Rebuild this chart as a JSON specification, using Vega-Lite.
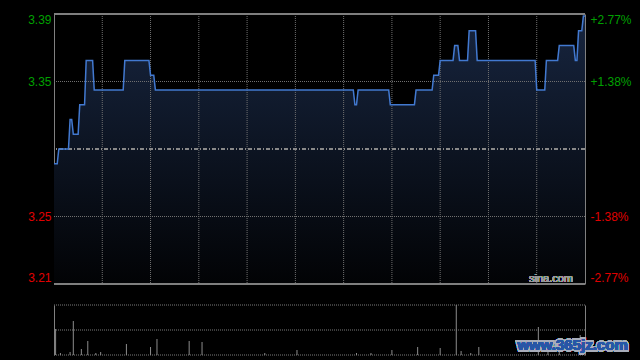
{
  "$schema": "https://vega.github.io/schema/vega-lite/v6.json",
  "width": 531,
  "height": 341,
  "autosize": {"type": "none"},
  "padding": {"left": 54, "top": 14, "right": 55, "bottom": 5},
  "background": "#000000",
  "config": {
    "view": {"stroke": null},
    "axis": {"labelFont": "Liberation Sans", "titleFont": "Liberation Sans"},
    "text": {"font": "Liberation Sans"}
  },
  "datasets": {
    "price": [
      {"m": 0, "p": 3.29}, {"m": 2, "p": 3.29}, {"m": 3, "p": 3.30}, {"m": 9, "p": 3.30},
      {"m": 10, "p": 3.32}, {"m": 11, "p": 3.32}, {"m": 12, "p": 3.31}, {"m": 15, "p": 3.31},
      {"m": 16, "p": 3.33}, {"m": 19, "p": 3.33}, {"m": 20, "p": 3.36}, {"m": 24, "p": 3.36},
      {"m": 25, "p": 3.34}, {"m": 43, "p": 3.34}, {"m": 44, "p": 3.36}, {"m": 59, "p": 3.36},
      {"m": 60, "p": 3.35}, {"m": 62, "p": 3.35}, {"m": 63, "p": 3.34}, {"m": 186, "p": 3.34},
      {"m": 187, "p": 3.33}, {"m": 188, "p": 3.33}, {"m": 189, "p": 3.34}, {"m": 208, "p": 3.34},
      {"m": 209, "p": 3.33}, {"m": 224, "p": 3.33}, {"m": 225, "p": 3.34}, {"m": 235, "p": 3.34},
      {"m": 236, "p": 3.35}, {"m": 239, "p": 3.35}, {"m": 240, "p": 3.36}, {"m": 248, "p": 3.36},
      {"m": 249, "p": 3.37}, {"m": 251, "p": 3.37}, {"m": 252, "p": 3.36}, {"m": 257, "p": 3.36},
      {"m": 258, "p": 3.38}, {"m": 262, "p": 3.38}, {"m": 263, "p": 3.36}, {"m": 299, "p": 3.36},
      {"m": 300, "p": 3.34}, {"m": 305, "p": 3.34}, {"m": 306, "p": 3.36}, {"m": 313, "p": 3.36},
      {"m": 314, "p": 3.37}, {"m": 323, "p": 3.37}, {"m": 324, "p": 3.36}, {"m": 325, "p": 3.36},
      {"m": 326, "p": 3.38}, {"m": 328, "p": 3.38}, {"m": 329, "p": 3.39}, {"m": 330, "p": 3.39}
    ],
    "vol": [
      {"m": 1, "v": 52}, {"m": 4, "v": 4}, {"m": 10, "v": 6}, {"m": 12, "v": 68},
      {"m": 17, "v": 12}, {"m": 21, "v": 28}, {"m": 26, "v": 4}, {"m": 29, "v": 6},
      {"m": 45, "v": 22}, {"m": 60, "v": 16}, {"m": 64, "v": 32}, {"m": 84, "v": 28},
      {"m": 92, "v": 26}, {"m": 131, "v": 4}, {"m": 151, "v": 10}, {"m": 188, "v": 4},
      {"m": 197, "v": 4}, {"m": 210, "v": 10}, {"m": 226, "v": 16}, {"m": 240, "v": 14},
      {"m": 250, "v": 100}, {"m": 253, "v": 8}, {"m": 259, "v": 4}, {"m": 264, "v": 16},
      {"m": 301, "v": 56}, {"m": 307, "v": 6}, {"m": 314, "v": 10}, {"m": 327, "v": 40}
    ],
    "times": [
      {"t": "10:00", "m": 30}, {"t": "10:30", "m": 60}, {"t": "11:00", "m": 90},
      {"t": "11:30", "m": 120}, {"t": "12:00/13:00", "m": 150}, {"t": "13:30", "m": 180},
      {"t": "14:00", "m": 210}, {"t": "14:30", "m": 240}, {"t": "15:00", "m": 270},
      {"t": "15:30", "m": 300}
    ],
    "levels": [{"p": 3.345705}, {"p": 3.254295}],
    "vlevels": [{"v": 0}, {"v": 50}, {"v": 100}]
  },
  "layer": [
    {
      "data": {"name": "price"},
      "layer": [
        {
          "mark": {
            "type": "area",
            "interpolate": "linear",
            "color": {
              "gradient": "linear", "x1": 0, "y1": 0, "x2": 0, "y2": 1,
              "stops": [{"offset": 0, "color": "#17253f"}, {"offset": 1, "color": "#020305"}]
            }
          },
          "encoding": {
            "x": {
              "field": "m", "type": "quantitative",
              "scale": {"domain": [0, 330], "nice": false, "zero": false},
              "axis": null
            },
            "y": {
              "field": "p", "type": "quantitative",
              "scale": {"domain": [3.20859, 3.39141], "nice": false, "zero": false, "range": [270, 0]},
              "axis": {
                "orient": "left",
                "values": [3.39141, 3.345705, 3.254295, 3.20859],
                "format": ".2f",
                "labelFlush": true,
                "ticks": false,
                "labelPadding": 3,
                "labelFontSize": 12,
                "labelColor": {"condition": {"test": "datum.value > 3.3", "value": "#00a000"}, "value": "#e00000"},
                "domain": true, "domainColor": "#808080",
                "grid": false,
                "title": null
              }
            },
            "y2": {"datum": 3.20859}
          }
        },
        {
          "data": {"name": "times"},
          "mark": {"type": "rule", "color": "#707070", "strokeWidth": 1, "strokeDash": [1, 1]},
          "encoding": {
            "x": {"field": "m", "type": "quantitative"},
            "y": {"datum": 3.39141, "type": "quantitative", "axis": null},
            "y2": {"datum": 3.20859}
          }
        },
        {
          "data": {"name": "levels"},
          "mark": {"type": "rule", "color": "#707070", "strokeWidth": 1, "strokeDash": [1, 1]},
          "encoding": {
            "y": {"field": "p", "type": "quantitative", "axis": null}
          }
        },
        {
          "mark": {"type": "rule", "color": "#8a8a8a", "strokeWidth": 1, "strokeDash": [4, 2, 1, 2]},
          "encoding": {"y": {"datum": 3.30, "type": "quantitative", "axis": null}}
        },
        {
          "mark": {"type": "line", "color": "#4279d0", "strokeWidth": 1.5, "interpolate": "linear"},
          "encoding": {
            "x": {"field": "m", "type": "quantitative"},
            "y": {
              "field": "p", "type": "quantitative",
              "axis": {
                "orient": "right",
                "values": [3.39141, 3.345705, 3.254295, 3.20859],
                "labelExpr": "datum.value > 3.37 ? '+2.77%' : datum.value > 3.3 ? '+1.38%' : datum.value > 3.23 ? '-1.38%' : '-2.77%'",
                "labelFlush": true,
                "ticks": false,
                "labelPadding": 5,
                "labelFontSize": 12,
                "labelColor": {"condition": {"test": "datum.value > 3.3", "value": "#00a000"}, "value": "#e00000"},
                "domain": true, "domainColor": "#808080",
                "grid": false,
                "title": null
              }
            }
          }
        },
        {
          "mark": {"type": "rule", "color": "#808080", "strokeWidth": 1},
          "encoding": {"y": {"datum": 3.39141, "type": "quantitative", "axis": null}}
        },
        {
          "mark": {"type": "rule", "color": "#808080", "strokeWidth": 1},
          "encoding": {"y": {"datum": 3.20859, "type": "quantitative", "axis": null}}
        },
        {
          "mark": {"type": "text", "text": "sina.com", "align": "right", "baseline": "alphabetic", "dx": -12, "dy": -2, "fontSize": 11, "color": "#9a9a9a"},
          "encoding": {
            "x": {"datum": 330, "type": "quantitative"},
            "y": {"datum": 3.20859, "type": "quantitative", "axis": null}
          }
        }
      ],
      "resolve": {"axis": {"y": "independent"}}
    },
    {
      "data": {"name": "vol"},
      "layer": [
        {
          "data": {"name": "vlevels"},
          "mark": {"type": "rule", "color": "#7a7a7a", "strokeWidth": 1, "strokeDash": [1, 1]},
          "encoding": {
            "y": {
              "field": "v", "type": "quantitative",
              "scale": {"domain": [0, 100], "nice": false, "range": [341, 291]},
              "axis": {
                "orient": "left",
                "labels": false, "ticks": false, "grid": false,
                "domain": true, "domainColor": "#808080",
                "title": null
              }
            }
          }
        },
        {
          "mark": {"type": "rule", "color": "#8c8c8c", "strokeWidth": 1},
          "encoding": {
            "x": {"field": "m", "type": "quantitative", "axis": null},
            "y": {
              "field": "v", "type": "quantitative",
              "axis": {
                "orient": "right",
                "labels": false, "ticks": false, "grid": false,
                "domain": true, "domainColor": "#808080",
                "title": null
              }
            },
            "y2": {"datum": 0}
          }
        },
        {
          "mark": {"type": "text", "text": "www.365jz.com", "align": "left", "baseline": "middle", "fontSize": 15, "fontWeight": "bold", "stroke": "#a9aebb", "strokeWidth": 3, "fill": "#a9aebb"},
          "encoding": {
            "x": {"datum": 288, "type": "quantitative"},
            "y": {"datum": 20, "type": "quantitative", "axis": null}
          }
        },
        {
          "mark": {"type": "text", "text": "www.365jz.com", "align": "left", "baseline": "middle", "fontSize": 15, "fontWeight": "bold", "fill": "#2856a6"},
          "encoding": {
            "x": {"datum": 288, "type": "quantitative"},
            "y": {"datum": 20, "type": "quantitative", "axis": null}
          }
        }
      ],
      "resolve": {"axis": {"y": "independent"}}
    }
  ],
  "resolve": {"scale": {"y": "independent"}, "axis": {"y": "independent"}}
}
